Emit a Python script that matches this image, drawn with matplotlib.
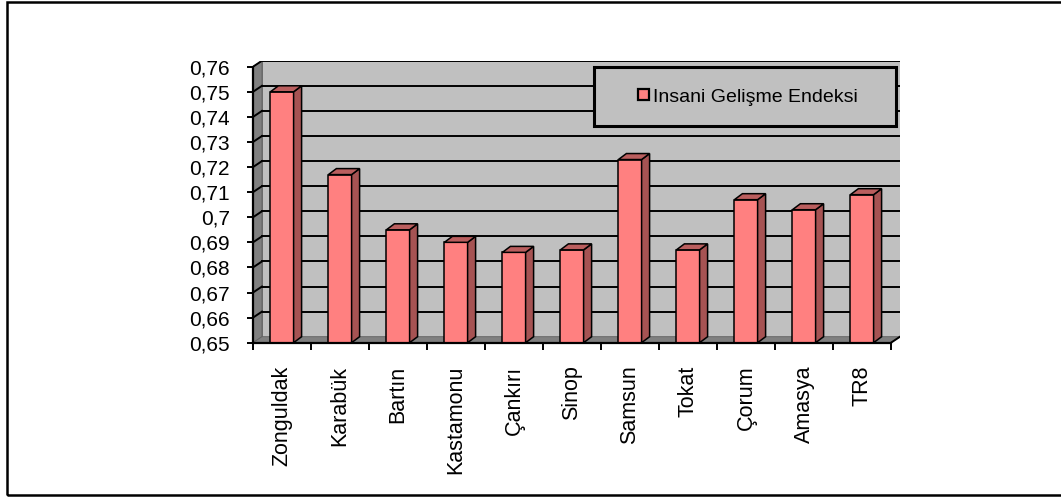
import numpy as np
import matplotlib.pyplot as plt
from matplotlib.patches import Polygon, Rectangle, Patch

plt.rcParams['font.family'] = ['Liberation Sans', 'DejaVu Sans']

# data
provinces = ['Zonguldak', 'Karabük', 'Bartın', 'Kastamonu', 'Çankırı', 'Sinop',
             'Samsun', 'Tokat', 'Çorum', 'Amasya', 'TR8']
hdi = [0.750, 0.717, 0.695, 0.690, 0.686, 0.687, 0.723, 0.687, 0.707, 0.703, 0.709]
ytick_vals = [0.65, 0.66, 0.67, 0.68, 0.69, 0.70, 0.71, 0.72, 0.73, 0.74, 0.75, 0.76]
ytick_labels = ['0,65', '0,66', '0,67', '0,68', '0,69', '0,7', '0,71', '0,72',
                '0,73', '0,74', '0,75', '0,76']
legend_label = 'Insani Gelişme Endeksi'

# layout (pixels of a 1061x497 figure)
W, H = 1061, 497
px_cat = 58.0          # pixels per category
px_val = 2509.0        # pixels per unit of value
ymin, ymax = 0.65, 0.76
wall_dx, wall_dy = 9 / px_cat, 6 / px_val
bar_dx, bar_dy = 8 / px_cat, 6 / px_val
bar_w = 0.40

front_col = '#FF8080'
side_col = '#A65353'
top_col = '#BA5E5E'
wall_col = '#C0C0C0'
dark_wall = '#808080'

n = len(provinces)
fig = plt.figure(figsize=(W / 100, H / 100), dpi=100)
ax_w = (n + wall_dx) * px_cat
ax_h = (ymax - ymin + wall_dy) * px_val
ax = fig.add_axes([253 / W, (H - 342.7) / H, ax_w / W, ax_h / H])
ax.set_xlim(0, n + wall_dx)
ax.set_ylim(ymin, ymax + wall_dy)
ax.patch.set_visible(False)

# back wall, side wall and floor
ax.add_patch(Polygon([(wall_dx, ymin + wall_dy), (n + wall_dx, ymin + wall_dy),
                      (n + wall_dx, ymax + wall_dy), (wall_dx, ymax + wall_dy)],
                     closed=True, fc=wall_col, ec='#606060', lw=0.6, zorder=0.5))
ax.add_patch(Polygon([(0, ymin), (wall_dx, ymin + wall_dy),
                      (wall_dx, ymax + wall_dy), (0, ymax)],
                     closed=True, fc=dark_wall, ec='#606060', lw=0.6, zorder=0.5))
ax.add_patch(Polygon([(0, ymin), (n, ymin), (n + wall_dx, ymin + wall_dy),
                      (wall_dx, ymin + wall_dy)],
                     closed=True, fc=dark_wall, ec='#606060', lw=0.6, zorder=0.6))
for v in ytick_vals[1:]:
    ax.plot([wall_dx, n + wall_dx], [v + wall_dy, v + wall_dy], c='k', lw=1.4, zorder=1)
    ax.plot([0, wall_dx], [v, v + wall_dy], c='k', lw=1.4, zorder=1)
ax.plot([n, n + wall_dx], [ymin, ymin + wall_dy], c='k', lw=1.4, zorder=1)

# bars: front face from ax.bar, side and top faces from the same values
x = np.arange(n) + 0.5
ax.bar(x, np.array(hdi) - ymin, bottom=ymin, width=bar_w, color=front_col,
       edgecolor='k', lw=1.1, zorder=3)
for xi, v in zip(x, hdi):
    xl, xr = xi - bar_w / 2, xi + bar_w / 2
    ax.add_patch(Polygon([(xr, ymin), (xr + bar_dx, ymin + bar_dy),
                          (xr + bar_dx, v + bar_dy), (xr, v)],
                         closed=True, fc=side_col, ec='k', lw=1.1, zorder=3))
    ax.add_patch(Polygon([(xl, v), (xr, v), (xr + bar_dx, v + bar_dy),
                          (xl + bar_dx, v + bar_dy)],
                         closed=True, fc=top_col, ec='k', lw=1.1, zorder=3))

# axes
for s in ['top', 'right']:
    ax.spines[s].set_visible(False)
ax.spines['left'].set_bounds(ymin, ymax)
ax.spines['bottom'].set_bounds(0, n)
for s in ['left', 'bottom']:
    ax.spines[s].set_linewidth(1.6)
    ax.spines[s].set_zorder(4)
ax.set_yticks(ytick_vals, ytick_labels, fontsize=15)
ax.tick_params(axis='y', length=4.5, width=1.4, pad=12)
ax.set_xticks(np.arange(n + 1), [''] * (n + 1))
ax.set_xticks(x, provinces, minor=True, rotation=90, fontsize=15.5, va='top')
ax.tick_params(axis='x', which='major', length=5, width=1.4)
ax.tick_params(axis='x', which='minor', length=0, pad=16.5)

# legend box
fig.patches.append(Rectangle((594 / W, (H - 126) / H), 302 / W, 59 / H,
                             transform=fig.transFigure, fc=wall_col, ec='k',
                             lw=2.2, zorder=5))
handle = Patch(fc=front_col, ec='k', lw=1.6)
fig.legend([handle], [legend_label], loc='center',
           bbox_to_anchor=(748 / W, (H - 97) / H), frameon=False, fontsize=14,
           handlelength=0.55, handleheight=0.55, handletextpad=0.2)

# outer frame
fig.patches.append(Rectangle((7 / W, 2 / H), 1.2, (H - 4) / H,
                             transform=fig.transFigure, fill=False, ec='k', lw=1.8))

fig.savefig('out.png', dpi=100)
